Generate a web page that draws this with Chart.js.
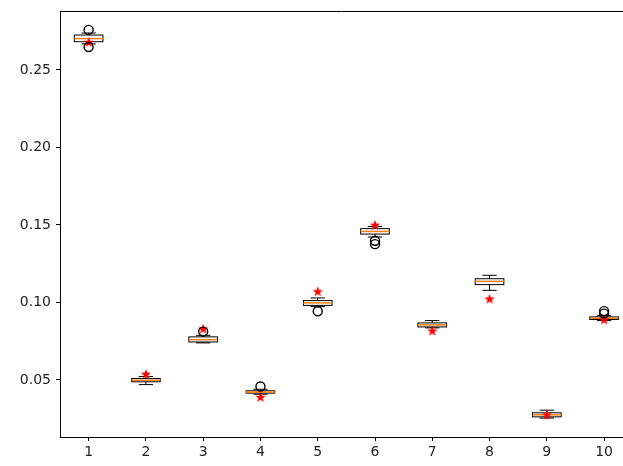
<!DOCTYPE html>
<html>
<head>
<meta charset="utf-8">
<script src="https://cdn.jsdelivr.net/npm/chart.js@4/dist/chart.umd.min.js"></script>
<style>
  html, body { margin: 0; padding: 0; background: #fff; }
  #wrap { width: 623px; height: 466px; }
</style>
</head>
<body>
<div id="wrap"><canvas id="chart" width="623" height="466"></canvas></div>
<script>
// box statistics per position
const positions = [1, 2, 3, 4, 5, 6, 7, 8, 9, 10];
const q1 =       [0.2682, 0.0488, 0.0745, 0.0415, 0.0981, 0.1441, 0.0842, 0.1115, 0.0262, 0.0890];
const medians =  [0.2702, 0.0498, 0.0760, 0.0422, 0.0997, 0.1458, 0.0855, 0.1136, 0.0275, 0.0898];
const q3 =       [0.2725, 0.0509, 0.0778, 0.0430, 0.1012, 0.1476, 0.0868, 0.1153, 0.0288, 0.0907];
const whiskLo =  [0.2668, 0.0470, 0.0739, 0.0408, 0.0973, 0.1422, 0.0836, 0.1078, 0.0254, 0.0883];
const whiskHi =  [0.2738, 0.0522, 0.0788, 0.0440, 0.1029, 0.1490, 0.0883, 0.1175, 0.0305, 0.0915];
const outliers = [[0.2758, 0.2648], [], [0.0812], [0.0458], [0.0943], [0.1398, 0.1376], [], [], [], [0.0944, 0.0928]];
const stars =    [0.2680, 0.0539, 0.0831, 0.0390, 0.1072, 0.1501, 0.0818, 0.1024, 0.0277, 0.0890];
const yTicks = [0.05, 0.10, 0.15, 0.20, 0.25];

const flierPoints = [];
outliers.forEach((list, i) => list.forEach(v => flierPoints.push({ x: positions[i], y: v })));
const starPoints = stars.map((v, i) => ({ x: positions[i], y: v }));

// filled red star marker
const starImg = document.createElement('canvas');
starImg.width = 12; starImg.height = 12;
(function () {
  const c = starImg.getContext('2d');
  c.fillStyle = '#ff0000';
  c.beginPath();
  for (let k = 0; k < 10; k++) {
    const r = k % 2 === 0 ? 5.5 : 2.3;
    const a = -Math.PI / 2 + k * Math.PI / 5;
    const px = 6 + r * Math.cos(a), py = 6.5 + r * Math.sin(a);
    if (k === 0) c.moveTo(px, py); else c.lineTo(px, py);
  }
  c.closePath();
  c.fill();
})();

const boxPlugin = {
  id: 'boxes',
  beforeDatasetsDraw(chart) {
    const { ctx, chartArea, scales: { x, y } } = chart;
    ctx.save();
    ctx.beginPath();
    ctx.rect(chartArea.left, chartArea.top, chartArea.right - chartArea.left, chartArea.bottom - chartArea.top);
    ctx.clip();
    positions.forEach((p, i) => {
      const xl = x.getPixelForValue(p - 0.25), xr = x.getPixelForValue(p + 0.25);
      const cl = x.getPixelForValue(p - 0.125), cr = x.getPixelForValue(p + 0.125);
      const xc = x.getPixelForValue(p);
      const yq1 = y.getPixelForValue(q1[i]), yq3 = y.getPixelForValue(q3[i]);
      const ylo = y.getPixelForValue(whiskLo[i]), yhi = y.getPixelForValue(whiskHi[i]);
      const ym = y.getPixelForValue(medians[i]);
      ctx.strokeStyle = '#000';
      ctx.lineWidth = 1;
      ctx.beginPath();
      ctx.moveTo(xc, yq1); ctx.lineTo(xc, ylo);
      ctx.moveTo(xc, yq3); ctx.lineTo(xc, yhi);
      ctx.moveTo(cl, ylo); ctx.lineTo(cr, ylo);
      ctx.moveTo(cl, yhi); ctx.lineTo(cr, yhi);
      ctx.stroke();
      ctx.strokeRect(xl, yq3, xr - xl, yq1 - yq3);
      ctx.strokeStyle = '#ff7f0e';
      ctx.lineWidth = 1.5;
      ctx.beginPath();
      ctx.moveTo(xl, ym); ctx.lineTo(xr, ym);
      ctx.stroke();
    });
    ctx.restore();
  },
  afterDraw(chart) {
    const { ctx, chartArea } = chart;
    ctx.save();
    ctx.strokeStyle = '#000';
    ctx.lineWidth = 1;
    ctx.beginPath();
    ctx.moveTo(chartArea.left, chartArea.top + 0.5);
    ctx.lineTo(chartArea.right, chartArea.top + 0.5);
    ctx.stroke();
    ctx.restore();
  }
};

new Chart(document.getElementById('chart'), {
  type: 'scatter',
  data: {
    datasets: [
      {
        label: 'fliers',
        data: flierPoints,
        pointStyle: 'circle',
        pointRadius: 4.5,
        backgroundColor: 'rgba(0,0,0,0)',
        borderColor: '#000',
        borderWidth: 1.4
      },
      {
        label: 'means',
        data: starPoints,
        pointStyle: starImg,
        pointRadius: 6
      }
    ]
  },
  options: {
    responsive: false,
    animation: false,
    layout: { autoPadding: false, padding: { top: 11, right: 0, left: 0, bottom: 0 } },
    plugins: { legend: { display: false }, tooltip: { enabled: false } },
    scales: {
      x: {
        type: 'linear',
        min: 0.5,
        max: 10.33,
        afterBuildTicks: s => { s.ticks = positions.map(v => ({ value: v })); },
        afterFit: s => { s.height = 29; s.paddingLeft = 0; s.paddingRight = 0; },
        grid: { drawOnChartArea: false, drawTicks: true, tickLength: 4, color: '#000' },
        border: { display: true, color: '#000', width: 1 },
        ticks: { color: '#222', font: { family: 'DejaVu Sans', size: 14 }, padding: 3, maxRotation: 0 }
      },
      y: {
        type: 'linear',
        min: 0.0132,
        max: 0.288,
        afterBuildTicks: s => { s.ticks = yTicks.map(v => ({ value: v })); },
        afterFit: s => { s.width = 60; s.paddingTop = 0; s.paddingBottom = 0; },
        grid: { drawOnChartArea: false, drawTicks: true, tickLength: 4, color: '#000' },
        border: { display: true, color: '#000', width: 1 },
        ticks: {
          color: '#222',
          font: { family: 'DejaVu Sans', size: 14 },
          padding: 5,
          callback: v => v.toFixed(2)
        }
      }
    }
  },
  plugins: [boxPlugin]
});
</script>
</body>
</html>
